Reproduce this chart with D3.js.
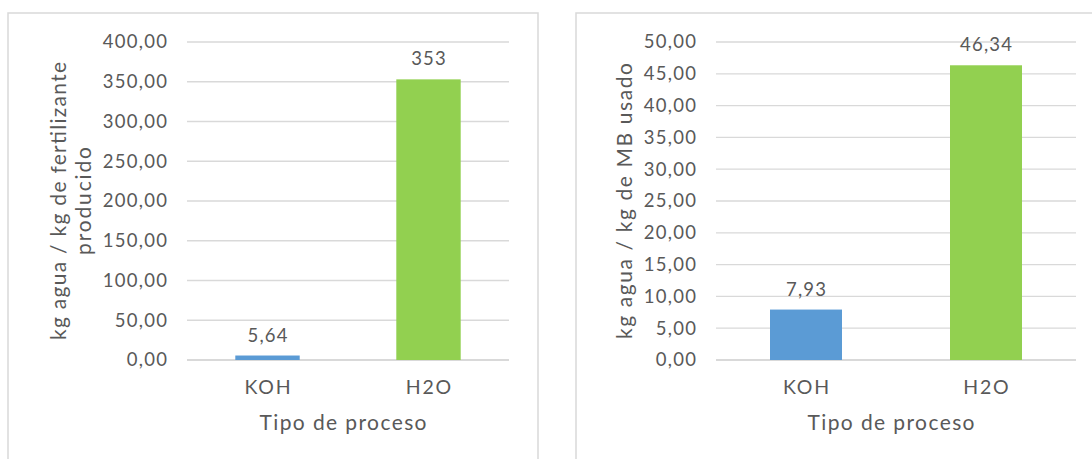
<!DOCTYPE html>
<html><head><meta charset="utf-8">
<script src="https://cdn.jsdelivr.net/npm/d3@7"></script>
<style>
html,body{margin:0;padding:0;background:#fff;}
svg{display:block;}
text{font-family:"Lato","Noto Sans",sans-serif;fill:#595959;}
</style></head>
<body>
<svg id="c" width="1092" height="459"></svg>
<script>
const categories = ["KOH", "H2O"];
const leftValues = [5.64, 353];
const leftLabels = ["5,64", "353"];
const leftTicks = [0, 50, 100, 150, 200, 250, 300, 350, 400];
const leftTitle = ["kg agua / kg de fertilizante", "producido"];
const rightValues = [7.93, 46.34];
const rightLabels = ["7,93", "46,34"];
const rightTicks = [0, 5, 10, 15, 20, 25, 30, 35, 40, 45, 50];
const rightTitle = ["kg agua / kg de MB usado"];
const xTitle = "Tipo de proceso";
const colors = ["#5B9BD5", "#92D050"];

const svg = d3.select("#c");
const fmt = v => v.toFixed(2).replace(".", ",");

function chart(cfg) {
  const g = svg.append("g");
  g.append("path")
    .attr("d", `M${cfg.px0},470 V${cfg.py0} H${cfg.px1} V470`)
    .attr("fill", "none").attr("stroke", "#D9D9D9").attr("stroke-width", 1.5);

  const y = d3.scaleLinear().domain([0, d3.max(cfg.ticks)]).range([cfg.y0, cfg.y1]);
  const x = d3.scaleBand().domain(categories).range([cfg.x0, cfg.x1])
    .paddingInner(0.6).paddingOuter(0.3);

  g.selectAll("line.grid").data(cfg.ticks).enter().append("line")
    .attr("x1", cfg.x0).attr("x2", cfg.x1)
    .attr("y1", d => y(d)).attr("y2", d => y(d))
    .attr("stroke", "#D9D9D9").attr("stroke-width", d => d === 0 ? 2 : 1.3);

  g.selectAll("text.tick").data(cfg.ticks).enter().append("text")
    .attr("x", cfg.x0 - 20 + 1.3).attr("y", d => y(d)).attr("dy", "0.35em")
    .attr("text-anchor", "end").style("font-size", "18.5px")
    .style("letter-spacing", "1.3px")
    .text(fmt);

  g.selectAll("rect.bar").data(cfg.values).enter().append("rect")
    .attr("x", (d, i) => x(categories[i]))
    .attr("width", x.bandwidth())
    .attr("y", d => y(d))
    .attr("height", d => y(0) - y(d))
    .attr("fill", (d, i) => colors[i]);

  g.selectAll("text.lbl").data(cfg.values).enter().append("text")
    .attr("x", (d, i) => x(categories[i]) + x.bandwidth() / 2 + 0.6)
    .attr("y", d => y(d) - 14)
    .attr("text-anchor", "middle").style("font-size", "18.5px")
    .style("letter-spacing", "1.2px")
    .text((d, i) => cfg.labels[i]);

  g.selectAll("text.cat").data(categories).enter().append("text")
    .attr("x", d => x(d) + x.bandwidth() / 2 + 0.9)
    .attr("y", cfg.y0 + 34)
    .attr("text-anchor", "middle").style("font-size", "19.5px")
    .style("letter-spacing", "1.8px")
    .text(d => d);

  g.append("text")
    .attr("x", (cfg.x0 + cfg.x1) / 2 - 5 + 0.7).attr("y", cfg.y0 + 70)
    .attr("text-anchor", "middle").style("font-size", "21px")
    .style("letter-spacing", "1.4px")
    .text(xTitle);

  const cy = (cfg.y0 + cfg.y1) / 2;
  cfg.title.forEach((t, i) => {
    g.append("text")
      .attr("transform", `translate(${cfg.tx + i * 25},${cy}) rotate(-90)`)
      .attr("text-anchor", "middle").style("font-size", "21px")
      .attr("textLength", cfg.tlen[i]).attr("lengthAdjust", "spacing")
      .text(t);
  });
}

chart({px0: 8, px1: 538, py0: 13, x0: 187, x1: 509, y0: 360, y1: 42,
  values: leftValues, labels: leftLabels, ticks: leftTicks, title: leftTitle,
  tx: 66, tlen: [278, 108]});
chart({px0: 576, px1: 1110, py0: 13, x0: 716, x1: 1076, y0: 360, y1: 42,
  values: rightValues, labels: rightLabels, ticks: rightTicks, title: rightTitle,
  tx: 632, tlen: [276]});
</script>
</body></html>
